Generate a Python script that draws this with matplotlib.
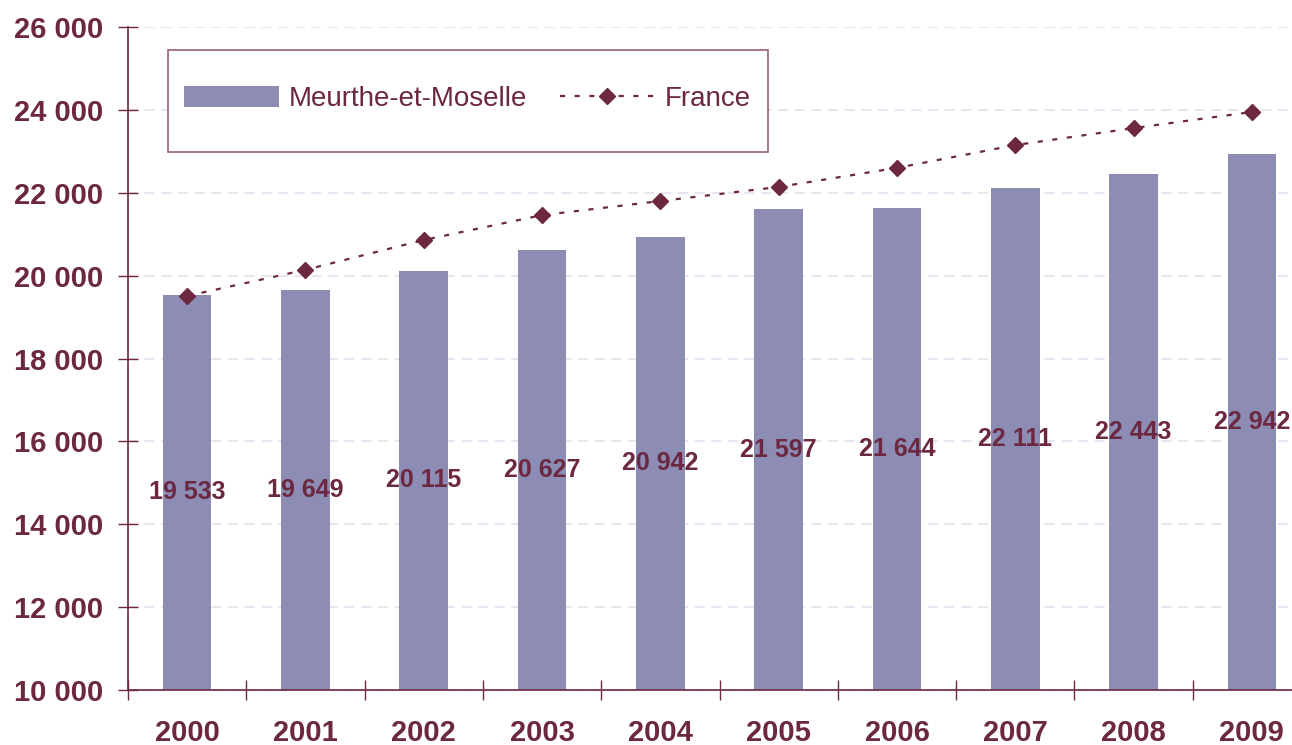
import matplotlib.pyplot as plt
import matplotlib.patches as patches
import numpy as np

plt.rcParams['font.family'] = ['Liberation Sans', 'DejaVu Sans']

# données
annees = ['2000', '2001', '2002', '2003', '2004', '2005', '2006', '2007', '2008', '2009']
meurthe = [19533, 19649, 20115, 20627, 20942, 21597, 21644, 22111, 22443, 22942]
france = [19510, 20140, 20860, 21460, 21800, 22140, 22600, 23150, 23560, 23950]

BORDEAUX = '#6B2840'
BARRE = '#8C8CB4'
GRILLE = '#E2E0EE'

W, H = 1292, 745
fig = plt.figure(figsize=(W / 100, H / 100), dpi=100)
x0, x1 = 128, 1311
y0, y1 = 690, 27
ax = fig.add_axes([x0 / W, (H - y0) / H, (x1 - x0) / W, (y0 - y1) / H])

x = np.arange(len(annees))
barres = ax.bar(x, meurthe, width=0.41, color=BARRE, label='Meurthe-et-Moselle', zorder=2)
ligne, = ax.plot(x, france, color=BORDEAUX, linestyle=(0, (2.3, 4.3)), linewidth=1.6,
                 marker='D', markersize=8.5, label='France', zorder=3)

# étiquettes au milieu des barres
for xi, v in zip(x, meurthe):
    ax.text(xi, (v + 10000) / 2, f'{v:,}'.replace(',', ' '), ha='center', va='center',
            fontsize=18, fontweight='bold', color=BORDEAUX, zorder=4)

ax.set_xlim(-0.5, len(annees) - 0.5)
ax.set_ylim(10000, 26000)
yt = np.arange(10000, 26001, 2000)
ax.set_yticks(yt)
ax.set_yticklabels([f'{t:,}'.replace(',', ' ') for t in yt], fontsize=21,
                   fontweight='bold', color=BORDEAUX)
ax.yaxis.grid(True, color=GRILLE, linestyle=(0, (6, 4)), linewidth=1.2, zorder=0)
ax.set_axisbelow(True)

# graduations x aux limites de catégories
ax.set_xticks(np.arange(-0.5, len(annees), 1.0))
ax.set_xticklabels([])
ax.set_xticks(x, minor=True)
ax.set_xticklabels(annees, minor=True, fontsize=21, fontweight='bold', color=BORDEAUX)
ax.tick_params(axis='x', which='minor', length=0, pad=21)
ax.tick_params(axis='x', which='major', direction='inout', length=14, color=BORDEAUX, width=1)
ax.tick_params(axis='y', direction='inout', length=14, color=BORDEAUX, width=1, pad=11)

for s in ['top', 'right']:
    ax.spines[s].set_visible(False)
for s in ['left', 'bottom']:
    ax.spines[s].set_color(BORDEAUX)
    ax.spines[s].set_linewidth(1.2)

# cadre de légende
cadre = patches.Rectangle((168 / W, (H - 152) / H), 600 / W, 102 / H, transform=fig.transFigure,
                          facecolor='white', edgecolor='#9A6078', linewidth=1.2, zorder=5)
fig.add_artist(cadre)
leg = fig.legend(handles=[barres, ligne], loc='center left', ncol=2,
                 bbox_to_anchor=(176 / W, (H - 99) / H),
                 fontsize=20, frameon=False, handlelength=3.4,
                 handleheight=0.8, borderpad=0.3, columnspacing=1.2, handletextpad=0.35,
                 borderaxespad=0)
leg.set_zorder(6)
for t in leg.get_texts():
    t.set_color(BORDEAUX)

fig.savefig('out.png', dpi=100)
